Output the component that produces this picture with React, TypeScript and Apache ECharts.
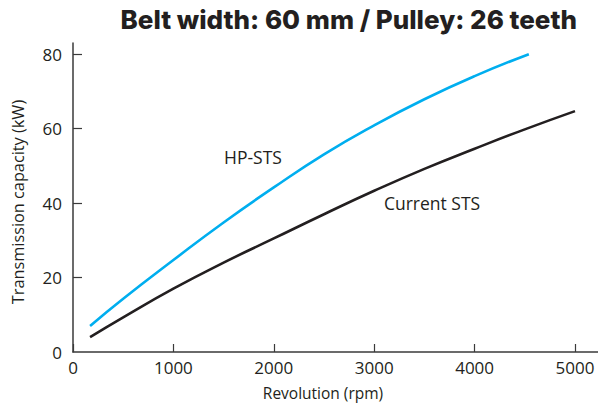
import React, { useEffect, useRef } from "react";
import * as echarts from "echarts";

const hpRpm = [170, 500, 1000, 1500, 2000, 2500, 3000, 3500, 4000, 4540];
const hpKw = [7, 14.3, 24.7, 34.8, 44.2, 53.1, 60.9, 67.9, 74.1, 80];
const curRpm = [170, 500, 1000, 1500, 2000, 2500, 3000, 3500, 4000, 4500, 5000];
const curKw = [4, 9.3, 17, 24, 30.5, 37, 43.3, 49.2, 54.6, 59.8, 64.7];
const xTicks = [0, 1000, 2000, 3000, 4000, 5000];
const yTicks = [0, 20, 40, 60, 80];

const TITLE = "Belt width: 60 mm / Pulley: 26 teeth";
const X_NAME = "Revolution (rpm)";
const Y_NAME = "Transmission capacity (kW)";

const FONT = "'Open Sans', 'Noto Sans', sans-serif";
const INK = "#231f20";

export default function App() {
  const ref = useRef<HTMLDivElement>(null);
  useEffect(() => {
    if (!ref.current) return;
    const chart = echarts.init(ref.current, null, { renderer: "svg" });
    chart.setOption({
      animation: false,
      backgroundColor: "#fff",
      grid: { left: 73, top: 43, right: 0, bottom: 55, containLabel: false },
      graphic: [
        {
          type: "text",
          x: 577,
          y: 19,
          style: { text: TITLE, fontFamily: "Inter, sans-serif", fontWeight: 800, fontSize: 26, fill: INK, align: "right", verticalAlign: "middle" },
        },
        {
          type: "text",
          x: 253,
          y: 157,
          style: { text: "HP-STS", fontFamily: FONT, fontSize: 17.5, fill: INK, align: "center", verticalAlign: "middle" },
        },
        {
          type: "text",
          x: 432,
          y: 203,
          style: { text: "Current STS", fontFamily: FONT, fontSize: 17.5, fill: INK, align: "center", verticalAlign: "middle" },
        },
        {
          type: "text",
          x: 323,
          y: 393,
          style: { text: X_NAME, fontFamily: FONT, fontSize: 15.5, fill: INK, align: "center", verticalAlign: "middle" },
        },
        {
          type: "text",
          x: 18,
          y: 202,
          rotation: Math.PI / 2,
          style: { text: Y_NAME, fontFamily: FONT, fontSize: 16.3, fill: INK, align: "center", verticalAlign: "middle" },
        },
      ],
      xAxis: {
        type: "value",
        min: 0,
        max: 5229,
        interval: 1000,
        axisLine: { show: true, lineStyle: { color: "#3a3a3a", width: 1.5 } },
        axisTick: { show: true, inside: true, length: 8, customValues: xTicks, lineStyle: { color: "#3a3a3a", width: 1.2 } },
        axisLabel: { customValues: xTicks, formatter: (v: number) => String(v), margin: 7, fontSize: 17, fontFamily: FONT, color: INK },
        splitLine: { show: false },
      },
      yAxis: {
        type: "value",
        min: 0,
        max: 83,
        interval: 20,
        axisLine: { show: true, lineStyle: { color: "#3a3a3a", width: 1.5 } },
        axisTick: { show: true, inside: true, length: 9, customValues: [20, 40, 60, 80], lineStyle: { color: "#3a3a3a", width: 1.2 } },
        axisLabel: { customValues: yTicks, formatter: (v: number) => String(v), margin: 11, fontSize: 17, fontFamily: FONT, color: INK },
        splitLine: { show: false },
      },
      series: [
        {
          name: "HP-STS",
          type: "line",
          data: hpRpm.map((x, i) => [x, hpKw[i]]),
          smooth: true,
          showSymbol: false,
          lineStyle: { color: "#00aeef", width: 2.6 },
        },
        {
          name: "Current STS",
          type: "line",
          data: curRpm.map((x, i) => [x, curKw[i]]),
          smooth: true,
          showSymbol: false,
          lineStyle: { color: INK, width: 2.6 },
        },
      ],
    });
    return () => chart.dispose();
  }, []);
  return <div ref={ref} style={{ width: 598, height: 407, position: "absolute", left: 0, top: 0 }} />;
}
